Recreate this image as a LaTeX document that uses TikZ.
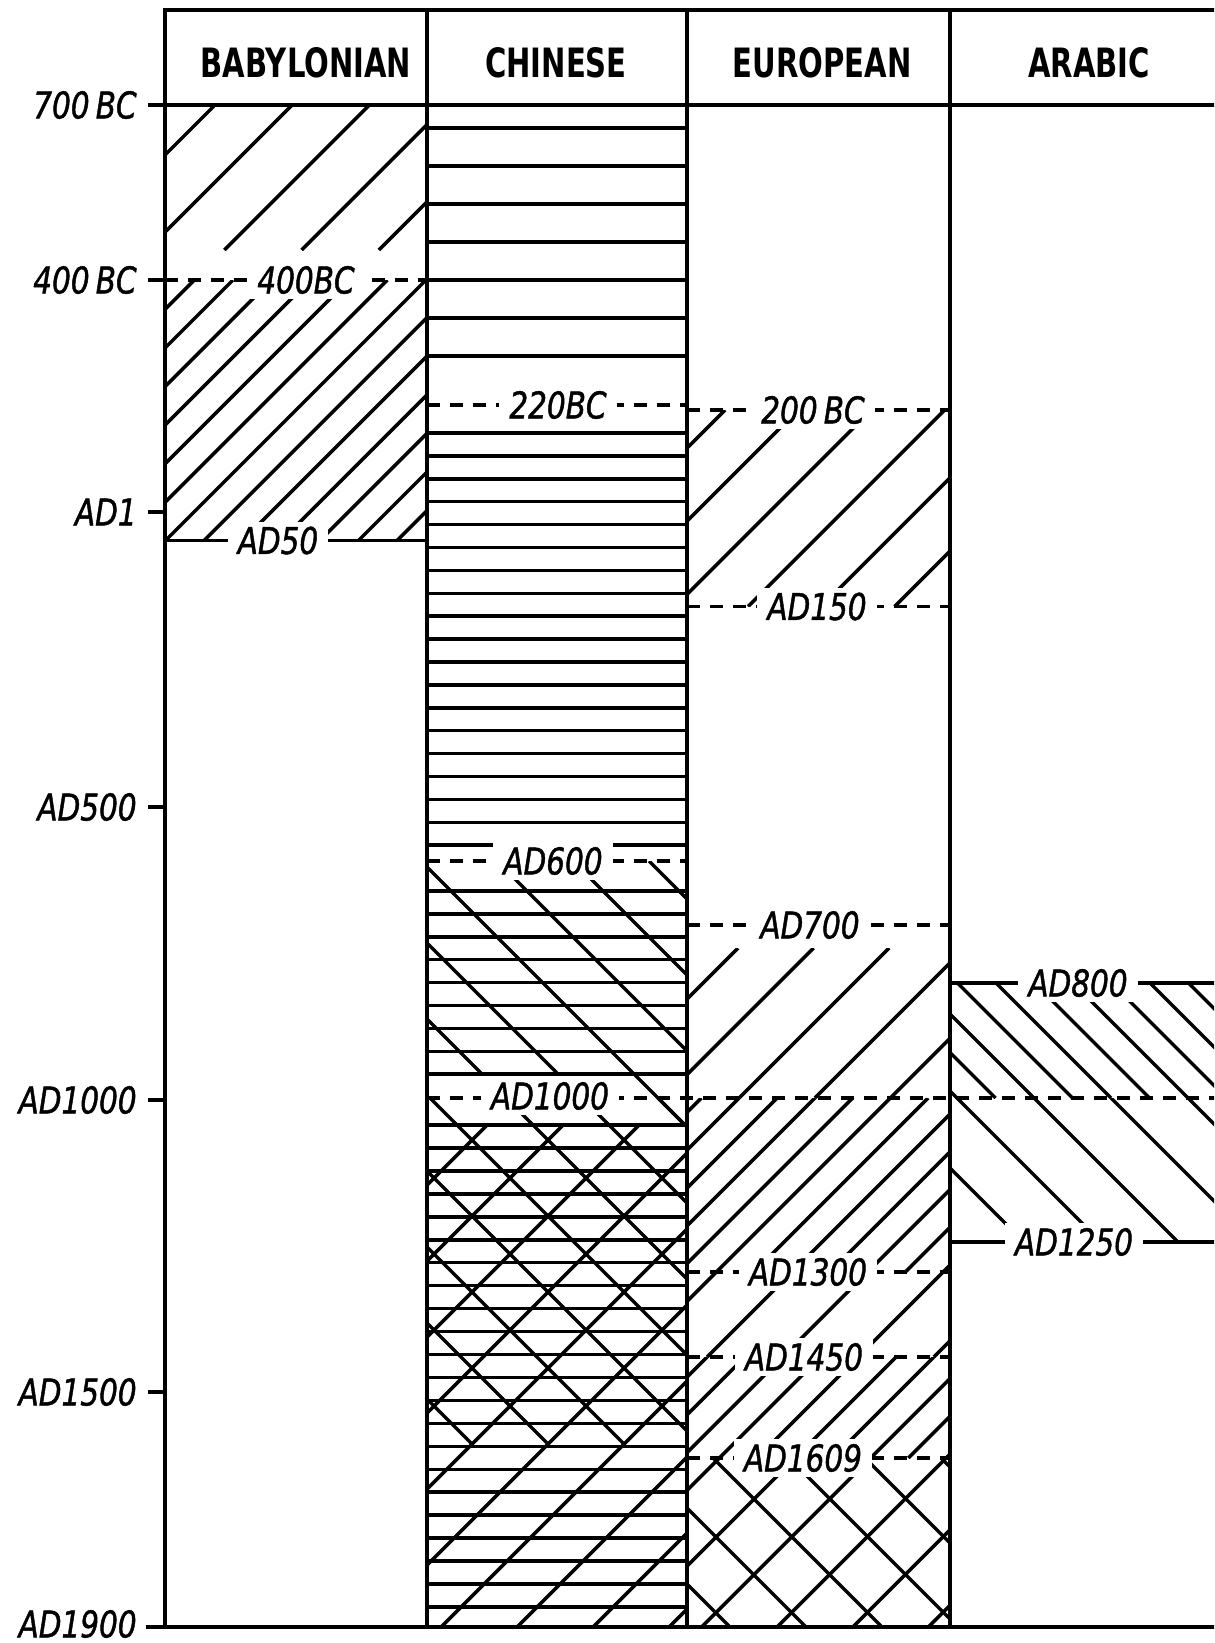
\documentclass[tikz,border=0pt]{standalone}
\usepackage{fontspec}
\newfontfamily\headfont{DejaVu Sans}[FakeStretch=0.72]
\newfontfamily\datefont{DejaVu Sans}[FakeStretch=0.8, FakeBold=1.2]

% column borders and rows (pixel units)
\def\xa{165}
\def\xb{427}
\def\xc{687}
\def\xd{950}
\def\xe{1226}
\def\ytop{10}
\def\yhead{105}
\def\ybot{1627}

% "/" hatching: lines x+y = d0 + k*step, clipped to a box
\newcommand{\fwdhatch}[6]{%
  \begin{scope}
    \clip (#1,#2) rectangle (#3,#4);
    \foreach \k in {-40,...,40}
      \draw[hatch] ({#5+#6*(\k)-#2},#2) -- ({#5+#6*(\k)-#4},#4);
  \end{scope}}
% "\" hatching: lines y-x = c0 + k*step, clipped to a box
\newcommand{\bckhatch}[6]{%
  \begin{scope}
    \clip (#1,#2) rectangle (#3,#4);
    \foreach \k in {-40,...,40}
      \draw[hatch] ({#2-(#5+#6*(\k))},#2) -- ({#4-(#5+#6*(\k))},#4);
  \end{scope}}

\begin{document}
\begin{tikzpicture}[
  x=0.02cm, y=-0.02cm,
  frame/.style={line width=2.8pt, line cap=rect},
  hatch/.style={line width=2pt},
  limit/.style={line width=2pt},
  dateline/.style={line width=2pt, dash pattern=on 0.26cm off 0.2cm},
  datelab/.style={font=\datefont\itshape\fontsize{21}{21}\selectfont,
                  fill=white, inner xsep=0.2cm, inner ysep=0.1cm},
  axislab/.style={font=\datefont\itshape\fontsize{21}{21}\selectfont,
                  anchor=east, inner sep=0pt},
  colhead/.style={font=\headfont\bfseries\fontsize{23}{23}\selectfont}
]
\clip (0,0) rectangle (1214,1643);

% Babylonian hatching
\fwdhatch{\xa}{\yhead}{\xb}{250}{320}{77.2}
\fwdhatch{\xa}{280}{\xb}{540.5}{320}{38.6}

% Chinese hatching
\foreach \y in {128,166,...,356}
  \draw[hatch] (\xb,\y) -- (\xc,\y);
\foreach \k in {0,...,28} {
  \ifnum\k=19\else
    \draw[hatch] (\xb,{433+22.9*\k}) -- (\xc,{433+22.9*\k});
  \fi}
\foreach \k in {0,...,21}
  \draw[hatch] (\xb,{1125+22.95*\k}) -- (\xc,{1125+22.95*\k});
\bckhatch{\xb}{861}{\xc}{1072.7}{668}{76}
\draw[hatch] (632.7,1072.7) -- (\xc,1127);
\bckhatch{\xb}{1098}{\xc}{1443}{668}{76}
\fwdhatch{\xb}{1125}{\xc}{\ybot}{1612}{76}

% European hatching
\fwdhatch{\xc}{410}{\xd}{606.5}{1135}{73.2}
\fwdhatch{\xc}{948}{\xd}{1098}{1686}{75.6}
\fwdhatch{\xc}{1098}{\xd}{1272}{1686}{37.8}
\fwdhatch{\xc}{1272}{\xd}{1357}{1686}{75.6}
\fwdhatch{\xc}{1357}{\xd}{1458}{1686}{37.8}
\fwdhatch{\xc}{1458}{\xd}{\ybot}{1723.8}{75.6}
\bckhatch{\xc}{1458}{\xd}{\ybot}{745}{76}

% Arabic hatching
\bckhatch{\xd}{983}{\xe}{1098}{-13}{38.5}
\bckhatch{\xd}{1098}{\xe}{1242}{-13}{77}

% Date lines
\draw[dateline] (\xa,280) -- (\xb,280);
\draw[limit] (\xa,540.5) -- (\xb,540.5);
\draw[dateline] (\xb,405) -- (\xc,405);
\draw[dateline] (\xb,861) -- (\xc,861);
\draw[dateline] (\xb,1098) -- (\xe,1098);
\draw[dateline] (\xc,410) -- (\xd,410);
\draw[dateline] (\xc,606.5) -- (\xd,606.5);
\draw[dateline] (\xc,925) -- (\xd,925);
\draw[dateline] (\xc,1272) -- (\xd,1272);
\draw[dateline] (\xc,1357) -- (\xd,1357);
\draw[dateline] (\xc,1458) -- (\xd,1458);
\draw[limit] (\xd,983) -- (\xe,983);
\draw[limit] (\xd,1242) -- (\xe,1242);

% Date labels
\node[datelab] (bab400) at (306,280) {400BC};
\node[datelab] (bab50) at (278,540.5) {AD50};
\node[datelab] (chn220) at (558,405) {220BC};
\node[datelab] (chn600) at (553,861) {AD600};
\node[datelab] (chn1000) at (550,1096) {AD1000};
\node[datelab] (eur200) at (813,410) {200\,BC};
\node[datelab] (eur150) at (817,606.5) {AD150};
\node[datelab] (eur700) at (810,925) {AD700};
\node[datelab] (eur1300) at (808,1272) {AD1300};
\node[datelab] (eur1450) at (804,1357) {AD1450};
\node[datelab] (eur1609) at (803,1458) {AD1609};
\node[datelab] (ara800) at (1078,983) {AD800};
\node[datelab] (ara1250) at (1074,1242) {AD1250};

% Frame
\draw[frame] (\xa,\ytop) -- (\xe,\ytop);
\draw[frame] (150,\yhead) -- (\xe,\yhead);
\draw[frame] (148,\ybot) -- (\xe,\ybot);
\foreach \x in {\xa,\xb,\xc,\xd,\xe}
  \draw[frame] (\x,\ytop) -- (\x,\ybot);
\foreach \y in {280,512,807,1100,1392}
  \draw[frame] (150,\y) -- (\xa,\y);

% Column heads
\node[colhead] (hbab) at (306,63) {BABYLONIAN};
\node[colhead] (hchn) at (556,63) {CHINESE};
\node[colhead] (heur) at (822,63) {EUROPEAN};
\node[colhead] (hara) at (1089,63) {ARABIC};

% Time axis
\node[axislab] (t700) at (137,105) {700\,BC};
\node[axislab] (t400) at (137,280) {400\,BC};
\node[axislab] (t1) at (137,512) {AD1};
\node[axislab] (t500) at (137,807) {AD500};
\node[axislab] (t1000) at (137,1100) {AD1000};
\node[axislab] (t1500) at (137,1392) {AD1500};
\node[axislab] (t1900) at (137,1624) {AD1900};

\end{tikzpicture}
\end{document}
